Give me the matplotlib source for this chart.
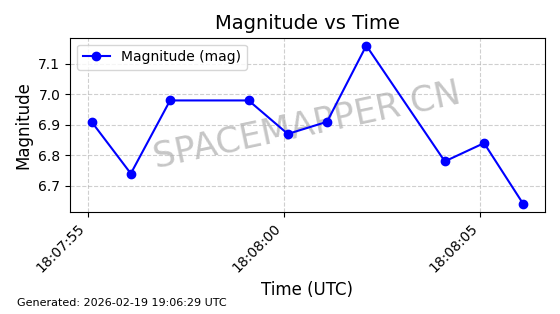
import matplotlib
matplotlib.use("Agg")
import matplotlib.pyplot as plt
import matplotlib.dates as mdates
import pandas as pd

# observation times and magnitudes
times = ["18:07:55.1", "18:07:56.1", "18:07:57.1", "18:07:59.1", "18:08:00.1",
         "18:08:01.1", "18:08:02.1", "18:08:04.1", "18:08:05.1", "18:08:06.1"]
mags = [6.91, 6.74, 6.98, 6.98, 6.87, 6.91, 7.16, 6.78, 6.84, 6.64]

t = pd.to_datetime(["2026-02-19 " + s for s in times])

fig, ax = plt.subplots(figsize=(5.6, 3.14), dpi=100)
ax.plot(t, mags, color="blue", marker="o", markersize=6, linewidth=1.5,
        label="Magnitude (mag)", zorder=3)
ax.text(0.5, 0.5, "SPACEMAPPER CN", transform=ax.transAxes, fontsize=25,
        color="gray", alpha=0.45, rotation=12, ha="center", va="center", zorder=1)

ax.set_title("Magnitude vs Time", fontsize=14)
ax.set_xlabel("Time (UTC)", fontsize=12)
ax.set_ylabel("Magnitude", fontsize=12)
ax.grid(True, linestyle="--", alpha=0.6)
ax.legend(loc="upper left")
ax.xaxis.set_major_locator(mdates.SecondLocator(bysecond=range(0, 60, 5)))
ax.xaxis.set_major_formatter(mdates.DateFormatter("%H:%M:%S"))
plt.setp(ax.get_xticklabels(), rotation=45, ha="right")

fig.subplots_adjust(left=0.125, right=0.973, top=0.88, bottom=0.325)
fig.text(0.03, 0.025, "Generated: 2026-02-19 19:06:29 UTC", fontsize=8)
fig.savefig("out.png", dpi=100)
